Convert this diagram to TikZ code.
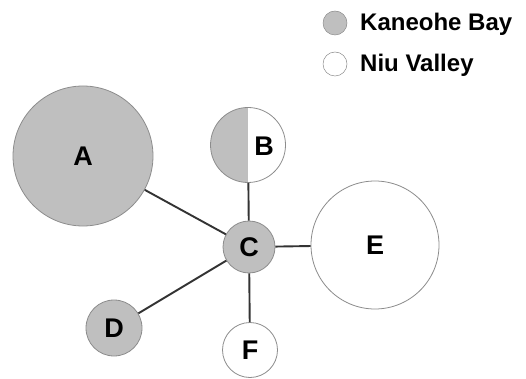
\documentclass[tikz,border=0pt]{standalone}
\usepackage{fontspec}
\setmainfont{Liberation Sans}
\begin{document}
\begin{tikzpicture}[x=1pt,y=-1pt,
  site/.style={circle,draw=black!45,line width=0.8pt,inner sep=0pt,font=\fontsize{27}{27}\selectfont\bfseries},
  kb/.style={site,fill=black!25},
  nv/.style={site,fill=white},
  link/.style={draw=black!80,line width=1.9pt},
  legtext/.style={anchor=west,inner sep=0pt,font=\fontsize{24}{24}\selectfont\bfseries}]
\useasboundingbox (0,0) rectangle (526,379);
\node[kb,minimum size=140pt] (A) at (83,156) {A};
\node[site,minimum size=75pt,
  path picture={\fill[black!25] (path picture bounding box.south west) rectangle (path picture bounding box.north);}] (B) at (248,145) {};
\node[font=\fontsize{27}{27}\selectfont\bfseries] (Bl) at (264,146) {B};
\node[kb,minimum size=52pt] (C) at (249,247) {C};
\node[kb,minimum size=56pt] (D) at (114,328) {D};
\node[nv,minimum size=128pt] (E) at (375,245) {E};
\node[nv,minimum size=55pt] (F) at (250,350) {F};
\draw[link] (A) -- (C);
\draw[link] (B) -- (C);
\draw[link] (D) -- (C);
\draw[link] (E) -- (C);
\draw[link] (F) -- (C);
% legend
\node[kb,minimum size=24pt,line width=0.5pt] (LK) at (335,23) {};
\node[nv,minimum size=24pt,line width=0.5pt] (LN) at (335,64) {};
\node[legtext] (TK) at (360,24) {Kaneohe Bay};
\node[legtext] (TN) at (360,65) {Niu Valley};
\end{tikzpicture}
\end{document}
